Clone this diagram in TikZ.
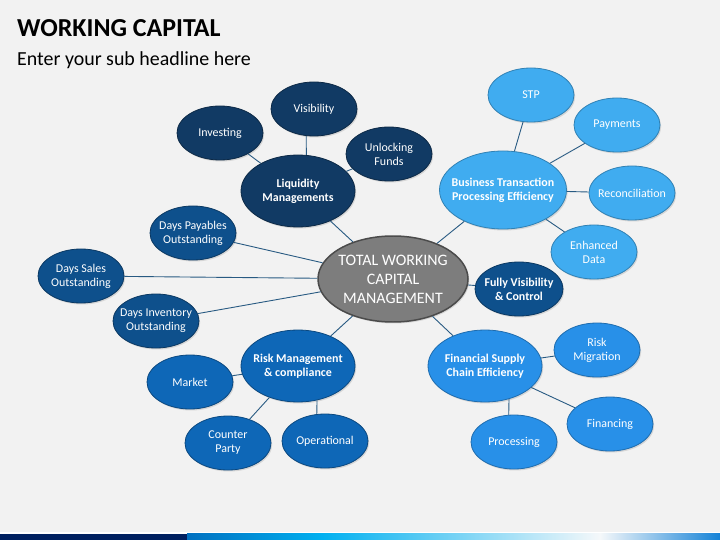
\documentclass[tikz,border=0pt]{standalone}
\usepackage{fontspec}
\setmainfont{Carlito}
\usepackage{xcolor}
\usetikzlibrary{shapes.geometric,shadows}

\definecolor{slidebg}{RGB}{242,242,242}
\definecolor{navyblue}{RGB}{17,58,100}
\definecolor{daysblue}{RGB}{14,80,140}
\definecolor{riskblue}{RGB}{14,103,183}
\definecolor{finblue}{RGB}{40,144,232}
\definecolor{bizblue}{RGB}{64,172,240}
\definecolor{linkblue}{RGB}{40,90,130}
\definecolor{hubgray}{RGB}{125,125,125}
\definecolor{barnavy}{RGB}{0,32,96}

\begin{document}
\begin{tikzpicture}[x=1bp,y=-1bp,
  bubble/.style={ellipse,inner sep=-8pt,minimum width=86bp,minimum height=54bp,
    text=white,align=center,font=\fontsize{12}{14}\selectfont,line width=0.8pt,
    drop shadow={opacity=0.25,shadow xshift=1.2pt,shadow yshift=-1.5pt}},
  bigbubble/.style={bubble,minimum width=114bp,minimum height=72bp,font=\bfseries\fontsize{12}{14}\selectfont},
  link/.style={draw=linkblue,line width=0.9pt}]

% Slide background
\fill[slidebg] (0,0) rectangle (720,540);
\useasboundingbox (0,0) rectangle (720,540);

% Title
\node[anchor=base west,inner sep=0pt,font=\bfseries\fontsize{26}{30}\selectfont] (title) at (17,37) {WORKING CAPITAL};
\node[anchor=base west,inner sep=0pt,font=\fontsize{20}{24}\selectfont] (subtitle) at (17,66) {Enter your sub headline here};

% Hub
\node[bubble,fill=hubgray,draw=hubgray!60!black,line width=1.5pt,minimum width=150bp,minimum height=86bp,
  text=white,font=\fontsize{16}{19}\selectfont] (hub) at (393,279) {TOTAL WORKING\\CAPITAL\\MANAGEMENT};

% Liquidity group
\node[bigbubble,fill=navyblue,draw=navyblue!70!black] (liq) at (298,191) {Liquidity\\Managements};
\node[bubble,fill=navyblue,draw=navyblue!70!black] (invest) at (220,133) {Investing};
\node[bubble,fill=navyblue,draw=navyblue!70!black] (visib) at (314,109) {Visibility};
\node[bubble,fill=navyblue,draw=navyblue!70!black] (unlock) at (389,154) {Unlocking\\Funds};

% Business transaction group
\node[bigbubble,fill=bizblue,draw=bizblue!75!black,minimum width=127bp,minimum height=78bp] (biz) at (503,190) {Business Transaction\\Processing Efficiency};
\node[bubble,fill=bizblue,draw=bizblue!75!black] (stp) at (531,95) {STP};
\node[bubble,fill=bizblue,draw=bizblue!75!black] (pay) at (617,125) {Payments};
\node[bubble,fill=bizblue,draw=bizblue!75!black] (recon) at (632,193) {Reconciliation};
\node[bubble,fill=bizblue,draw=bizblue!75!black] (enh) at (594,252) {Enhanced\\Data};

% Fully visibility
\node[bubble,fill=daysblue,draw=daysblue!70!black,minimum width=88bp,font=\bfseries\fontsize{12}{14}\selectfont] (fully) at (519,289) {Fully Visibility\\\& Control};

% Days outstanding
\node[bubble,fill=daysblue,draw=daysblue!70!black] (dpo) at (193,233) {Days Payables\\Outstanding};
\node[bubble,fill=daysblue,draw=daysblue!70!black] (dso) at (81,276) {Days Sales\\Outstanding};
\node[bubble,fill=daysblue,draw=daysblue!70!black] (dio) at (156,321) {Days Inventory\\Outstanding};

% Risk group
\node[bigbubble,fill=riskblue,draw=riskblue!70!black] (risk) at (298,366) {Risk Management\\\& compliance};
\node[bubble,fill=riskblue,draw=riskblue!70!black] (market) at (190,382) {Market};
\node[bubble,fill=riskblue,draw=riskblue!70!black] (counter) at (228,443) {Counter\\Party};
\node[bubble,fill=riskblue,draw=riskblue!70!black] (oper) at (325,441) {Operational};

% Financial supply chain group
\node[bigbubble,fill=finblue,draw=finblue!75!black] (fin) at (485,366) {Financial Supply\\Chain Efficiency};
\node[bubble,fill=finblue,draw=finblue!75!black] (riskmig) at (597,350) {Risk\\Migration};
\node[bubble,fill=finblue,draw=finblue!75!black] (financing) at (610,424) {Financing};
\node[bubble,fill=finblue,draw=finblue!75!black] (proc) at (514,442) {Processing};

% Links
\draw[link] (hub) -- (liq);
\draw[link] (hub) -- (biz);
\draw[link] (hub) -- (fully);
\draw[link] (hub) -- (risk);
\draw[link] (hub) -- (fin);
\draw[link] (hub) -- (dpo);
\draw[link] (hub) -- (dso);
\draw[link] (hub) -- (dio);
\draw[link] (liq) -- (invest);
\draw[link] (liq.77) -- (visib.-106);
\draw[link] (liq) -- (unlock);
\draw[link] (biz) -- (stp);
\draw[link] (biz) -- (pay);
\draw[link] (biz) -- (recon);
\draw[link] (biz) -- (enh);
\draw[link] (risk) -- (market);
\draw[link] (risk) -- (counter);
\draw[link] (risk.-61) -- (oper.107);
\draw[link] (fin) -- (riskmig);
\draw[link] (fin) -- (financing);
\draw[link] (fin.-54) -- (proc.101);

% Bottom bar
\fill[white] (0,532) rectangle (720,533.5);
\fill[barnavy] (0,533.5) rectangle (187,540);
\shade[left color={rgb,255:red,0;green,112;blue,192},right color={rgb,255:red,0;green,176;blue,240}] (187,533.5) rectangle (322,540);
\shade[left color={rgb,255:red,0;green,176;blue,240},right color={rgb,255:red,245;green,248;blue,250}] (322,533.5) rectangle (600,540);
\shade[left color={rgb,255:red,245;green,248;blue,250},right color={rgb,255:red,20;green,130;blue,215}] (600,533.5) rectangle (720,540);
\end{tikzpicture}
\end{document}
